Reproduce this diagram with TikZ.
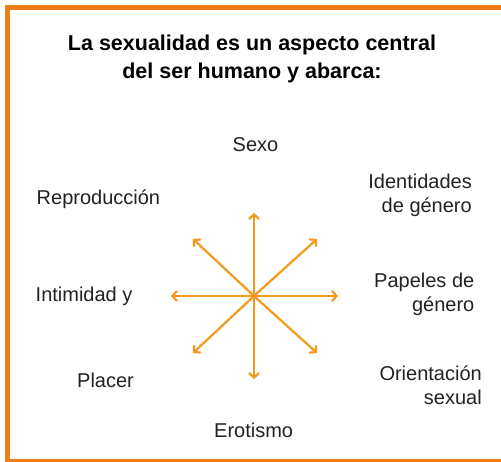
\documentclass[tikz,border=0pt]{standalone}
\usepackage{fontspec}
\setmainfont{Liberation Sans}
\usetikzlibrary{arrows.meta}
\definecolor{frameorange}{HTML}{EE7D1A}
\definecolor{arroworange}{HTML}{F39A1E}
\definecolor{labelgray}{HTML}{222222}
\tikzset{
  frame/.style={draw=frameorange, line width=5pt, line join=miter},
  ray/.style={draw=arroworange, line width=2.2pt, -{Straight Barb[length=4.5pt,width=10pt]}},
  lbl/.style={inner sep=0pt, text=labelgray, font=\fontsize{20}{24.5}\selectfont},
  lblr/.style={lbl, align=right, anchor=base east},
  lbll/.style={lbl, anchor=base west},
  titlebox/.style={inner sep=0pt, align=center, anchor=base, font=\bfseries\fontsize{21.5}{27.8}\selectfont}
}
\begin{document}
\begin{tikzpicture}[x=1pt,y=-1pt]
\useasboundingbox (0,0) rectangle (501,462);
\begin{scope}
\clip (0,0) rectangle (501,462);
\fill[white] (0,0) rectangle (501,462);
\draw[frame] (501,7.5) -- (7.5,7.5) -- (7.5,461.5) -- (501,461.5);
\end{scope}
\node[titlebox] (title) at (252,78.5) {La sexualidad es un aspecto central\\del ser humano y abarca:};
\coordinate (c) at (254,296);
\coordinate (tn) at (254,213);
\coordinate (ts) at (254,379);
\coordinate (tw) at (171,296);
\coordinate (te) at (338,296);
\coordinate (tnw) at (193,239);
\coordinate (tne) at (317,239);
\coordinate (tsw) at (193,353);
\coordinate (tse) at (317,353);
\foreach \t in {tn,ts,tw,te,tnw,tne,tsw,tse} \draw[ray] (c) -- (\t);
\node[lbll] (sexo) at (232.5,151.7) {Sexo};
\node[lbll] (repro) at (36.5,205) {Reproducción};
\node[lbll] (intim) at (35.5,301.7) {Intimidad y};
\node[lbll] (placer) at (77,388) {Placer};
\node[lbll] (eros) at (214,438) {Erotismo};
\node[lblr] (ident) at (472,213) {Identidades\\de género};
\node[lblr] (papel) at (474.5,312) {Papeles de\\género};
\node[lblr] (orient) at (482,405) {Orientación\\sexual};
\end{tikzpicture}
\end{document}
